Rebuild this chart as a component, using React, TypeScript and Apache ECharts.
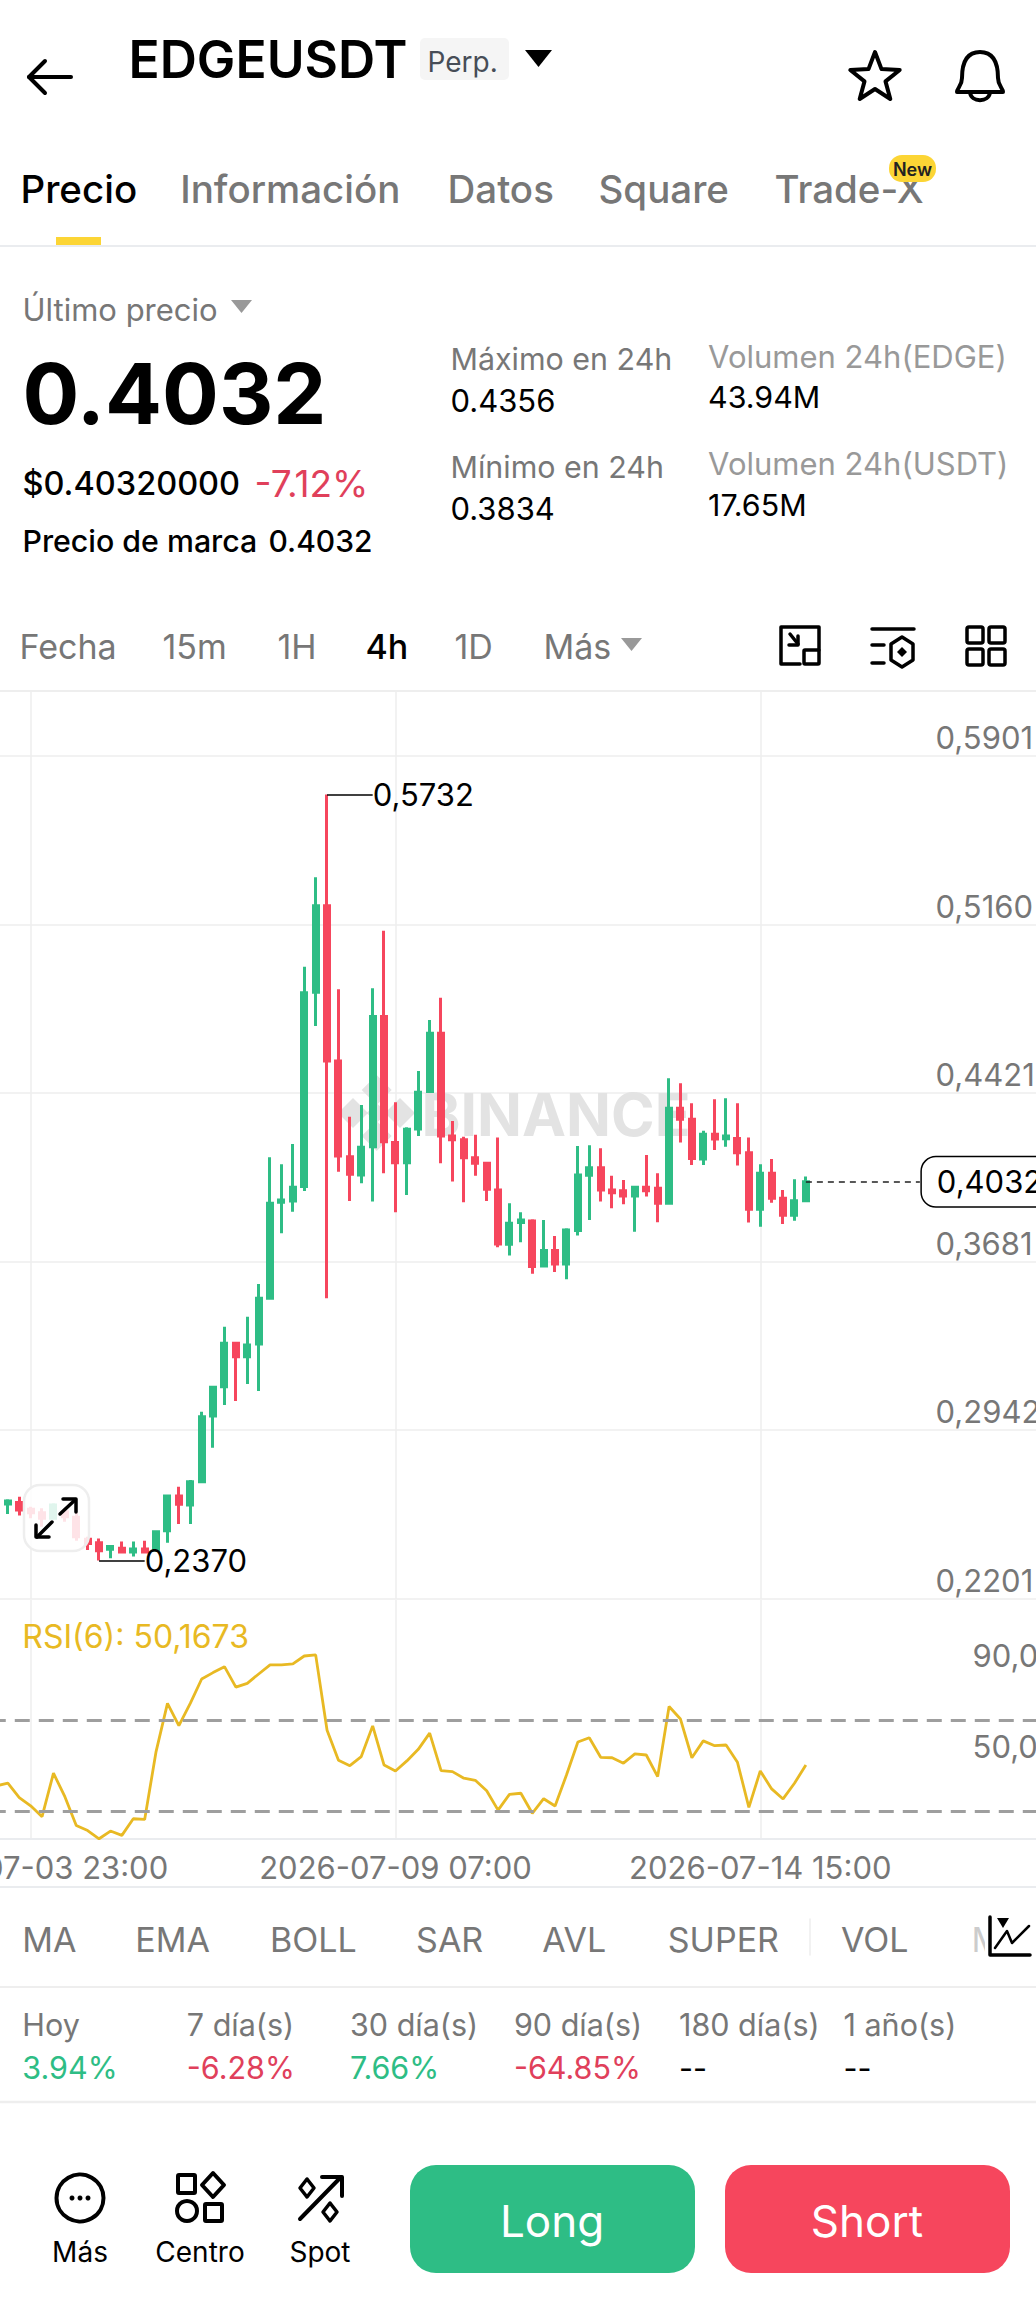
import React, { useEffect, useRef } from "react";
import * as echarts from "echarts";

const FONT = "Inter";
const GREEN = "#2EBD85";
const RED = "#F6465D";
const GREY = "#777777";
const LIGHTGREY = "#999999";
const GRID = "#EEEEEE";

// 4h candles, first one is three bars before 2026-07-03 23:00
const opens = [0.2620,0.2618,0.2624,0.2595,0.2580,0.2555,0.2584,0.2560,0.2463,0.2448,0.2419,0.2424,0.2407,0.2420,0.2416,0.2501,0.2653,0.2614,0.2716,0.3004,0.3133,0.3323,0.3264,0.3320,0.3521,0.3942,0.3948,0.4011,0.4864,0.5243,0.4562,0.4142,0.4062,0.4186,0.4757,0.4204,0.4116,0.4264,0.4428,0.4684,0.4233,0.4216,0.4137,0.4113,0.3996,0.3758,0.3853,0.3860,0.3663,0.3730,0.3671,0.3818,0.4061,0.4094,0.3996,0.3993,0.3970,0.4008,0.4004,0.3938,0.4355,0.4306,0.4132,0.4241,0.4221,0.4222,0.4160,0.3911,0.4069,0.3960,0.3885,0.3949];
const closes = [0.2631,0.2631,0.2592,0.2580,0.2555,0.2614,0.2562,0.2474,0.2445,0.2413,0.2431,0.2407,0.2420,0.2407,0.2496,0.2653,0.2617,0.2716,0.3001,0.3130,0.3323,0.3264,0.3316,0.3521,0.3938,0.3952,0.4008,0.4862,0.5243,0.4562,0.4145,0.4065,0.4184,0.4757,0.4208,0.4116,0.4263,0.4425,0.4684,0.4233,0.4216,0.4137,0.4113,0.3999,0.3759,0.3850,0.3864,0.3660,0.3730,0.3671,0.3821,0.4062,0.4094,0.3996,0.3984,0.3970,0.4008,0.3993,0.3938,0.4355,0.4306,0.4134,0.4241,0.4220,0.4233,0.4160,0.3911,0.4069,0.3960,0.3885,0.3949,0.4032];
const highs = [0.2640,0.2639,0.2650,0.2606,0.2599,0.2621,0.2599,0.2580,0.2474,0.2467,0.2438,0.2453,0.2453,0.2457,0.2499,0.2654,0.2694,0.2723,0.3023,0.3132,0.3396,0.3324,0.3440,0.3584,0.4140,0.4109,0.4198,0.4976,0.5369,0.5732,0.4877,0.4318,0.4369,0.4881,0.5134,0.4381,0.4271,0.4518,0.4742,0.4840,0.4299,0.4230,0.4238,0.4116,0.4226,0.3938,0.3898,0.3868,0.3864,0.3794,0.3828,0.4189,0.4192,0.4179,0.4059,0.4040,0.4009,0.4150,0.4069,0.4486,0.4464,0.4377,0.4256,0.4394,0.4399,0.4377,0.4226,0.4109,0.4132,0.3996,0.4043,0.4055];
const lows = [0.2570,0.2574,0.2567,0.2555,0.2518,0.2551,0.2540,0.2457,0.2416,0.2370,0.2380,0.2402,0.2387,0.2402,0.2409,0.2448,0.2530,0.2530,0.2714,0.2865,0.3052,0.3070,0.3145,0.3114,0.3520,0.3806,0.3901,0.3992,0.4716,0.3521,0.4076,0.3948,0.4026,0.3945,0.4069,0.3898,0.3974,0.4233,0.4426,0.4113,0.4033,0.3942,0.4059,0.3948,0.3745,0.3708,0.3767,0.3628,0.3662,0.3636,0.3604,0.3796,0.3864,0.3945,0.3916,0.3933,0.3813,0.3967,0.3854,0.3937,0.4205,0.4106,0.4106,0.4172,0.4186,0.4103,0.3853,0.3835,0.3940,0.3847,0.3861,0.3945];
const rsiValues = [41.1,42.2,35.9,32.3,27.5,46.6,36.3,23.6,21.4,17.8,21.2,19.3,26.6,26.3,56.1,77.3,67.5,77.3,88.0,90.8,93.4,84.4,86.1,90.2,94.2,94.2,94.6,98.1,98.6,65.5,52.3,49.9,53.9,67.4,50.2,47.6,52.0,57.1,64.2,47.7,47.3,44.4,43.5,38.9,30.4,37.3,37.8,29.0,35.4,32.2,45.8,60.3,62.2,53.6,53.4,51.0,55.1,54.6,45.1,75.9,70.4,53.4,60.8,58.7,59.0,51.4,31.6,47.6,39.7,35.3,42.2,50.17];

const FIRST_INDEX_OFFSET = 3;
const CATEGORY_COUNT = 92;
const dateLabels = ["2026-07-03 23:00", "2026-07-09 07:00", "2026-07-14 15:00"];
const priceTicks = [0.5901, 0.516, 0.4421, 0.3681, 0.2942, 0.2201];
const rsiTicks = [90, 50];
const rsiLevels = [70, 30];
const lastPrice = 0.4032;
const highPrice = 0.5732;
const lowPrice = 0.237;
const rsiLabel = "RSI(6): 50,1673";

const pad = (n: number) => String(n).padStart(2, "0");
const categories: string[] = [];
for (let k = 0; k < CATEGORY_COUNT; k++) {
  const d = new Date(Date.UTC(2026, 6, 3, 23 + (k - FIRST_INDEX_OFFSET) * 4));
  categories.push(`${d.getUTCFullYear()}-${pad(d.getUTCMonth() + 1)}-${pad(d.getUTCDate())} ${pad(d.getUTCHours())}:00`);
}
const cat = (k: number) => categories[k];
const isDateTick = (index: number) => dateLabels.includes(categories[index]);
const comma = (v: number, digits: number) => v.toFixed(digits).replace(".", ",");
const candleData = opens.map((o, i) => [o, closes[i], lows[i], highs[i]]);

const T = (text: string, x: number, y: number, size: number, fill: string, weight: number = 400, align: string = "left") => ({
  type: "text", x: align === "left" ? x - 1.5 : x, y, z: 20, silent: true,
  style: { text, fontSize: size, fontFamily: FONT, fontWeight: weight, fill, align, verticalAlign: "middle", textAlign: align, textVerticalAlign: "middle" },
});
const L = (x1: number, y1: number, x2: number, y2: number, stroke = "#000", lineWidth = 3.5, z = 20) => ({
  type: "line", z, silent: true, shape: { x1, y1, x2, y2 }, style: { stroke, lineWidth, lineCap: "round" },
});
const P = (points: number[][], stroke = "#000", lineWidth = 3.5, z = 20) => ({
  type: "polyline", z, silent: true, shape: { points }, style: { stroke, lineWidth, fill: "none", lineCap: "round", lineJoin: "round" },
});
const G = (points: number[][], fill: string, z = 20) => ({ type: "polygon", z, silent: true, shape: { points }, style: { fill } });
const GS = (points: number[][], stroke = "#000", lineWidth = 3.5, z = 20) => ({
  type: "polygon", z, silent: true, shape: { points }, style: { fill: "none", stroke, lineWidth, lineJoin: "round" },
});
const R = (x: number, y: number, width: number, height: number, r: number, fill: string, z = 20, stroke?: string, lineWidth?: number) => ({
  type: "rect", z, silent: true, shape: { x, y, width, height, r }, style: { fill, stroke, lineWidth },
});
const Diamond = (cx: number, cy: number, h: number, v: number) => [[cx, cy - v], [cx + h, cy], [cx, cy + v], [cx - h, cy]];

const tabs: [string, number, string, number][] = [["Precio", 22, "#000", 500], ["Información", 181.7, GREY, 500], ["Datos", 449, GREY, 500], ["Square", 600, GREY, 500], ["Trade-X", 776, GREY, 500]];
const intervals: [string, number, string, number][] = [["Fecha", 21, GREY, 400], ["15m", 164, GREY, 400], ["1H", 279, GREY, 400], ["4h", 367, "#000", 500], ["1D", 456, GREY, 400], ["Más", 545, GREY, 400]];
const indicators: [string, number][] = [["MA", 23.8], ["EMA", 136.8], ["BOLL", 271.6], ["SAR", 417.6], ["AVL", 543.8], ["SUPER", 669.3], ["VOL", 842.4]];
const perf: [string, string, string, number][] = [
  ["Hoy", "3.94%", GREEN, 23.8], ["7 día(s)", "-6.28%", "#E0405B", 188.3], ["30 día(s)", "7.66%", GREEN, 351.5],
  ["90 día(s)", "-64.85%", "#E0405B", 515.4], ["180 día(s)", "--", "#000", 680.5], ["1 año(s)", "--", "#000", 845],
];

echarts.graphic.registerShape("bell", echarts.graphic.extendPath(
  "M980 52C965 52 962 66 962 78C962 86 957 88 957 92L1003 92C1003 88 998 86 998 78C998 66 995 52 980 52ZM970 92C971 103 989 103 990 92", {}));

function buildGraphic() {
  const els: any[] = [];
  // header
  els.push(P([[45, 61], [29, 77], [45, 93]], "#000", 4), L(29, 77, 71, 77, "#000", 4));
  els.push(T("EDGEUSDT", 130, 59, 51.5, "#000", 600));
  els.push(R(420, 38, 89, 42, 5, "#F5F5F5"), T("Perp.", 429, 62, 28, "#474D57"));
  els.push(G([[525, 50], [552, 50], [538.5, 67]], "#000"));
  els.push(GS([[875, 52], [881.5, 69.1], [899.7, 70], [885.5, 81.4], [890.3, 99], [875, 89], [859.7, 99], [864.5, 81.4], [850.3, 70], [868.5, 69.1]], "#000", 4));
  els.push({ type: "bell", z: 20, silent: true, style: { fill: "none", stroke: "#000", lineWidth: 4, lineJoin: "round" } });
  tabs.forEach(([t, x, c, w]) => els.push(T(t, x, 189, 38.5, c, w)));
  els.push(R(889, 155, 47, 27, 13, "#FCD535", 21), { ...T("New", 912.5, 169, 18, "#222", 600, "center"), z: 22 });
  els.push(R(56, 237, 45, 8, 0, "#FCD535"), L(0, 246, 1036, 246, "#EAECEF", 2));
  // price block
  els.push(T("Último precio", 24, 309, 31, GREY), G([[231, 300], [252, 300], [241.5, 313]], "#999"));
  els.push(T("0.4032", 24, 393, 84.3, "#000", 700));
  els.push(T("$0.40320000", 24, 483, 32.5, "#000", 500), T("-7.12%", 256, 483, 37, "#E0405B", 400));
  els.push(T("Precio de marca", 24, 541, 30.3, "#000", 500), T("0.4032", 270, 541, 30, "#000", 500));
  els.push(T("Máximo en 24h", 452, 358.5, 30.4, GREY), T("0.4356", 452, 400, 31, "#000"));
  els.push(T("Mínimo en 24h", 452, 466.5, 30.4, GREY), T("0.3834", 452, 508, 31, "#000"));
  els.push(T("Volumen 24h(EDGE)", 709.6, 356, 31, LIGHTGREY), T("43.94M", 709.6, 397, 30.4, "#000"));
  els.push(T("Volumen 24h(USDT)", 709.6, 463, 31, LIGHTGREY), T("17.65M", 709.6, 505, 30.4, "#000"));
  // intervals
  intervals.forEach(([t, x, c, w]) => els.push(T(t, x, 646, 34, c, w)));
  els.push(G([[621, 638], [642, 638], [631.5, 651]], "#999"));
  els.push(P([[819, 650], [819, 627], [781, 627], [781, 664], [800, 664]]), R(804, 650, 15, 14, 1, "none", 20, "#000", 3.5));
  els.push(L(790, 634, 798, 644), P([[798, 636], [798, 645], [789, 645]]));
  els.push(L(872, 629, 914, 629), L(872, 645, 884, 645), L(872, 663, 884, 663));
  els.push(GS([[902, 637], [913, 644], [913, 660], [902, 667], [891, 660], [891, 644]]), G(Diamond(902, 652, 5, 5), "#000"));
  [[967, 627], [989, 627], [967, 649], [989, 649]].forEach(([x, y]) => els.push(R(x, y, 16, 16, 2, "none", 20, "#000", 3.5)));
  els.push(L(0, 691, 1036, 691, "#EEEEEE", 2));
  // watermark
  els.push({ ...T("BINANCE", 423, 1114, 59, "#E3E3E3", 700), z: 1 });
  els.push(G(Diamond(376.7, 1090, 15, 15), "#E3E3E3", 1), G(Diamond(376.7, 1136, 15, 15), "#E3E3E3", 1), G(Diamond(353, 1113, 15, 15), "#E3E3E3", 1), G(Diamond(400, 1113, 15, 15), "#E3E3E3", 1), G(Diamond(376.7, 1113, 10, 10), "#E3E3E3", 1));
  // expand button
  els.push(R(24, 1485, 65, 66, 16, "rgba(255,255,255,0.85)", 30, "#EEEEEE", 2.5));
  els.push(L(60, 1514, 75, 1500, "#000", 3.5, 31), P([[63, 1499], [76, 1499], [76, 1512]], "#000", 3.5, 31));
  els.push(L(52, 1522, 37, 1537, "#000", 3.5, 31), P([[36, 1525], [36, 1537], [49, 1537]], "#000", 3.5, 31));
  // RSI legend and bottom strip
  els.push(T(rsiLabel, 23.8, 1636, 32, "#E8B923"));
  els.push(L(0, 1887, 1036, 1887, "#EAECEF", 2));
  indicators.forEach(([t, x]) => els.push(T(t, x, 1939, 34, GREY)));
  els.push(L(810, 1919, 810, 1955, "#EEEEEE", 1.5));
  els.push(T("M", 973, 1939, 34, "#CCCCCC"), { ...R(985, 1905, 60, 70, 0, "#FFF"), z: 21 });
  els.push({ ...P([[990, 1917], [990, 1955], [1030, 1955]]), z: 22 }, { ...P([[995, 1948], [1007, 1931], [1012, 1943], [1029, 1926]], "#000", 2.5), z: 22 }, { ...G([[997, 1918], [1009, 1918], [1003, 1928]], "#000"), z: 22 });
  els.push(L(0, 1987, 1036, 1987, "#EEEEEE", 2));
  perf.forEach(([a, b, c, x]) => { els.push(T(a, x, 2024, 30.5, GREY), T(b, x, 2067, 30.5, c)); });
  els.push(L(0, 2102, 1036, 2102, "#EEEEEE", 2.5));
  // bottom nav
  els.push({ type: "circle", z: 20, silent: true, shape: { cx: 80, cy: 2198, r: 23.5 }, style: { fill: "none", stroke: "#000", lineWidth: 4 } });
  [72, 80, 88].forEach((cx) => els.push({ type: "circle", z: 20, silent: true, shape: { cx, cy: 2198, r: 2.5 }, style: { fill: "#000" } }));
  els.push(T("Más", 80, 2252, 28, "#000", 400, "center"));
  els.push(R(178, 2175, 17, 18, 1, "none", 20, "#000", 4), GS(Diamond(213, 2185, 11, 12), "#000", 4));
  els.push({ type: "circle", z: 20, silent: true, shape: { cx: 187, cy: 2211, r: 10 }, style: { fill: "none", stroke: "#000", lineWidth: 4 } });
  els.push(R(205, 2204, 17, 17, 1, "none", 20, "#000", 4));
  els.push(T("Centro", 200, 2252, 28, "#000", 400, "center"));
  els.push(L(300, 2219, 341, 2177, "#000", 4), P([[322, 2177], [342, 2177], [342, 2196]], "#000", 4));
  els.push(GS(Diamond(307, 2188, 7, 9), "#000", 3.5), GS(Diamond(330, 2212, 7, 9), "#000", 3.5));
  els.push(T("Spot", 320, 2252, 28, "#000", 400, "center"));
  els.push(R(410, 2165, 285, 108, 26, GREEN), T("Long", 552, 2221, 44, "#FFF", 400, "center"));
  els.push(R(725, 2165, 285, 108, 26, RED), T("Short", 867, 2221, 44, "#FFF", 400, "center"));
  return els;
}

const yAxisBase = {
  type: "value", position: "right", scale: true,
  axisLine: { show: false }, 
};

export default function App() {
  const ref = useRef<HTMLDivElement>(null);
  useEffect(() => {
    const chart = echarts.init(ref.current!, null, { renderer: "svg" });
    const extremeLabel = { position: "end", distance: 0, fontFamily: FONT, fontSize: 31, color: "#000" };
    const k68 = opens.length - 1;
    chart.setOption({
      animation: false,
      backgroundColor: "#FFFFFF",
      textStyle: { fontFamily: FONT },
      graphic: { elements: buildGraphic() },
      grid: [
        { left: -9.23, top: 691, width: 11.4 * CATEGORY_COUNT, height: 908, outerBoundsMode: "none" },
        { left: -9.23, top: 1600, width: 11.4 * CATEGORY_COUNT, height: 239, outerBoundsMode: "none" },
      ],
      xAxis: [
        {
          type: "category", gridIndex: 0, data: categories, boundaryGap: true,
          axisLine: { show: false }, axisTick: { show: false, alignWithLabel: true }, axisLabel: { show: false },
          splitLine: { show: true, alignWithLabel: true, interval: (i: number) => isDateTick(i), lineStyle: { color: GRID, width: 1.5 } },
        },
        {
          type: "category", gridIndex: 1, data: categories, boundaryGap: true,
          axisLine: { show: true, lineStyle: { color: "#EAECEF", width: 2 } }, axisTick: { show: false, alignWithLabel: true },
          axisLabel: { show: true, interval: (i: number) => isDateTick(i), color: GREY, fontFamily: FONT, fontSize: 31, margin: 28, verticalAlign: "middle" },
          splitLine: { show: true, alignWithLabel: true, interval: (i: number) => isDateTick(i), lineStyle: { color: GRID, width: 1.5 } },
        },
      ],
      yAxis: [
        {
          ...yAxisBase, gridIndex: 0, min: 0.2201, max: 0.6186,
          axisTick: { show: false, customValues: priceTicks },
          axisLabel: { inside: true, customValues: priceTicks, align: "left", verticalAlign: "bottom", margin: 104, padding: [0, 0, 3, 0], color: GREY, fontFamily: FONT, fontSize: 31, formatter: (v: number) => comma(v, 4) },
          splitLine: { show: true, lineStyle: { color: GRID, width: 1.5 } },
        },
        {
          ...yAxisBase, gridIndex: 1, min: 17.7, max: 122.7,
          axisTick: { show: false, customValues: rsiTicks },
          axisLabel: { inside: true, customValues: rsiTicks, align: "left", verticalAlign: "bottom", margin: 67, padding: [0, 0, 3, 0], color: GREY, fontFamily: FONT, fontSize: 31, formatter: (v: number) => comma(v, 1) },
          splitLine: { show: false },
        },
      ],
      series: [
        {
          type: "line", name: "last", xAxisIndex: 0, yAxisIndex: 0, data: [], z: 1, silent: true,
          markLine: {
            silent: true, symbol: "none", animation: false,
            lineStyle: { color: "#222", width: 1.5, type: [6, 5] },
            data: [[
              { coord: [cat(k68), lastPrice] },
              {
                coord: [cat(k68 + 10), lastPrice],
                label: {
                  position: "end", distance: 2, formatter: () => comma(lastPrice, 4), fontFamily: FONT, fontSize: 31, color: "#000",
                  backgroundColor: "#FFF", borderColor: "#000", borderWidth: 1.5, borderRadius: 14, padding: [9, 40, 9, 15],
                },
              },
            ]],
          },
        },
        {
          type: "candlestick", name: "EDGEUSDT", xAxisIndex: 0, yAxisIndex: 0, data: candleData, barWidth: 5.5, z: 2,
          itemStyle: { color: GREEN, color0: RED, borderColor: GREEN, borderColor0: RED, borderWidth: 3 },
          markLine: {
            silent: true, symbol: "none", animation: false,
            lineStyle: { color: "#000", width: 1.5, type: "solid" },
            data: [
              [{ coord: [cat(29), highPrice] }, { coord: [cat(33), highPrice], label: { ...extremeLabel, formatter: () => comma(highPrice, 4) } }],
              [{ coord: [cat(9), lowPrice] }, { coord: [cat(13), lowPrice], label: { ...extremeLabel, formatter: () => comma(lowPrice, 4) } }],
            ],
          },
        },
        {
          type: "line", name: "RSI(6)", xAxisIndex: 1, yAxisIndex: 1, data: rsiValues, showSymbol: false, symbol: "none",
          lineStyle: { color: "#E8B923", width: 2.8 }, clip: false,
          markLine: {
            silent: true, symbol: "none", animation: false, label: { show: false },
            lineStyle: { color: "#9E9E9E", width: 3, type: [15, 9] },
            data: rsiLevels.map((v) => ({ yAxis: v })),
          },
        },
      ],
    });
    return () => chart.dispose();
  }, []);
  return <div ref={ref} style={{ position: "absolute", left: 0, top: 0, width: 1036, height: 2303 }} />;
}
